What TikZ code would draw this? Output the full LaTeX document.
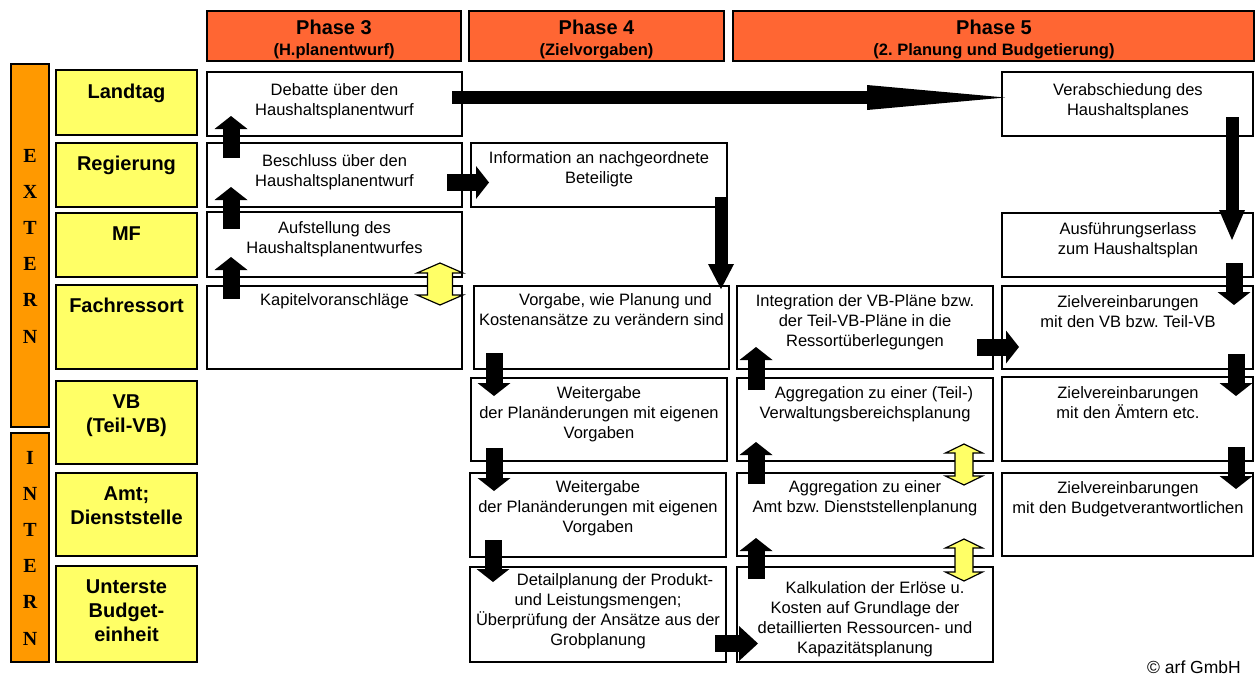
\documentclass[tikz,border=0pt]{standalone}
\usepackage{fontspec}
\setmainfont{Liberation Sans}
\newfontfamily\xserif{Liberation Serif}
\usetikzlibrary{arrows.meta,fit}
\frenchspacing
\definecolor{phasered}{HTML}{FF6633}
\definecolor{barorange}{HTML}{FF9900}
\definecolor{lblyellow}{HTML}{FFFF66}
\newcommand\tb[1]{\parbox[t]{320pt}{\centering #1}}
% yellow double arrow: cx, ytop, ybot, shaft half, head half, head length
\newcommand\ydblarrow[6]{%
  \filldraw[ydbl] (#1,#2) -- (#1+#5,#2+#6) -- (#1+#4,#2+#6) -- (#1+#4,#3-#6) -- (#1+#5,#3-#6) -- (#1,#3)
    -- (#1-#5,#3-#6) -- (#1-#4,#3-#6) -- (#1-#4,#2+#6) -- (#1-#5,#2+#6) -- cycle;}
\tikzset{
  box/.style={draw=black, line width=1.5pt, fill=white, inner sep=0pt},
  phasebox/.style={box, fill=phasered},
  lblbox/.style={box, fill=lblyellow},
  barbox/.style={box, fill=barorange},
  txt/.style={inner sep=0pt, anchor=base, font=\fontsize{16.5}{20}\selectfont},
  lbltxt/.style={inner sep=0pt, anchor=base, font=\fontsize{20}{24}\selectfont\bfseries},
  phasetxt/.style={inner sep=0pt, anchor=base, font=\bfseries},
  bartxt/.style={inner sep=0pt, anchor=base, font=\xserif\bfseries\fontsize{20}{36.2}\selectfont},
  blk/.style={line width=17pt, -{Triangle[width=33pt,length=13pt,line width=0pt]}},
  blkthin/.style={line width=13pt, -{Triangle[width=26pt,length=#1,line width=0pt]}},
  ydbl/.style={fill=lblyellow, draw=black, line width=1.2pt, line join=miter}
}
\begin{document}
\begin{tikzpicture}[x=1pt,y=-1pt]
\useasboundingbox (0,0) rectangle (1258,675);

% ---------- phase headers ----------
\node[phasebox, fit={(207,11) (461,61)}] (ph3) {};
\node[phasetxt] (ph3t) at (334,34) {\tb{\fontsize{20}{21}\selectfont Phase 3\\\fontsize{16.5}{21}\selectfont (H.planentwurf)}};
\node[phasebox, fit={(469,11) (724,61)}] (ph4) {};
\node[phasetxt] (ph4t) at (596.5,34) {\tb{\fontsize{20}{21}\selectfont Phase 4\\\fontsize{16.5}{21}\selectfont (Zielvorgaben)}};
\node[phasebox, fit={(733,11) (1254,61)}] (ph5) {};
\node[phasetxt] (ph5t) at (994,34) {\tb{\fontsize{20}{21}\selectfont Phase 5\\\fontsize{16.5}{21}\selectfont (2. Planung und Budgetierung)}};

% ---------- extern / intern bars ----------
\node[barbox, fit={(11,64) (49,427)}] (ext) {};
\node[bartxt] (extt) at (30,162) {\parbox[t]{30pt}{\centering E\\X\\T\\E\\R\\N}};
\node[barbox, fit={(11,433) (49,662)}] (int) {};
\node[bartxt] (intt) at (30,464) {\parbox[t]{30pt}{\centering I\\N\\T\\E\\R\\N}};

% ---------- row labels ----------
\node[lblbox, fit={(56,70) (197,135)}] (lLand) {};
\node[lbltxt] (lLandt) at (126.5,98) {\tb{Landtag}};
\node[lblbox, fit={(56,143) (197,207)}] (lReg) {};
\node[lbltxt] (lRegt) at (126.5,170) {\tb{Regierung}};
\node[lblbox, fit={(56,213) (197,277)}] (lMF) {};
\node[lbltxt] (lMFt) at (126.5,240) {\tb{MF}};
\node[lblbox, fit={(56,285) (197,369)}] (lFach) {};
\node[lbltxt] (lFacht) at (126.5,312) {\tb{Fachressort}};
\node[lblbox, fit={(56,381) (197,464)}] (lVB) {};
\node[lbltxt] (lVBt) at (126.5,408) {\tb{VB\\(Teil-VB)}};
\node[lblbox, fit={(56,473) (197,556)}] (lAmt) {};
\node[lbltxt] (lAmtt) at (126.5,500) {\tb{Amt;\\Dienststelle}};
\node[lblbox, fit={(56,566) (197,662)}] (lUnt) {};
\node[lbltxt] (lUntt) at (126.5,593) {\tb{Unterste\\Budget-\\einheit}};

% ---------- phase 3 boxes ----------
\node[box, fit={(207,72) (462,136)}] (deb) {};
\node[txt] (debt) at (334.5,95) {\tb{Debatte über den\\Haushaltsplanentwurf}};
\node[box, fit={(207,143) (462,207)}] (bes) {};
\node[txt] (best) at (334.5,166) {\tb{Beschluss über den\\Haushaltsplanentwurf}};
\node[box, fit={(207,212) (462,277)}] (auf) {};
\node[txt] (auft) at (334.5,233) {\tb{Aufstellung des\\Haushaltsplanentwurfes}};
\node[box, fit={(207,286) (462,369)}] (kap) {};
\node[txt] (kapt) at (334.5,305) {\tb{Kapitelvoranschläge}};

% ---------- phase 4 boxes ----------
\node[box, fit={(471,143) (727,207)}] (inf) {};
\node[txt] (inft) at (599,163) {\tb{Information an nachgeordnete\\Beteiligte}};
\node[box, fit={(474,286) (729,369)}] (vor) {};
\node[txt] (vort) at (601.5,305) {\tb{\hspace*{28pt}Vorgabe, wie Planung und\\Kostenansätze zu verändern sind}};
\node[box, fit={(471,378) (727,461)}] (wei1) {};
\node[txt] (wei1t) at (599,398) {\tb{Weitergabe\\der Planänderungen mit eigenen\\Vorgaben}};
\node[box, fit={(470,473) (726,557)}] (wei2) {};
\node[txt] (wei2t) at (598,492) {\tb{Weitergabe\\der Planänderungen mit eigenen\\Vorgaben}};
\node[box, fit={(470,567) (726,662)}] (det) {};
\node[txt] (dett) at (598,585) {\tb{\hspace*{34pt}Detailplanung der Produkt-\\und Leistungsmengen;\\Überprüfung der Ansätze aus der\\Grobplanung}};

% ---------- phase 5 middle boxes ----------
\node[box, fit={(737,286) (993,369)}] (intg) {};
\node[txt] (intgt) at (865,306) {\tb{Integration der VB-Pläne bzw.\\der Teil-VB-Pläne in die\\Ressortüberlegungen}};
\node[box, fit={(737,378) (993,461)}] (agg1) {};
\node[txt] (agg1t) at (865,398) {\tb{\hspace*{18pt}Aggregation zu einer (Teil-)\\Verwaltungsbereichsplanung}};
\node[box, fit={(737,473) (993,556)}] (agg2) {};
\node[txt] (agg2t) at (865,492) {\tb{Aggregation zu einer\\Amt bzw. Dienststellenplanung}};
\node[box, fit={(737,567) (993,662)}] (kal) {};
\node[txt] (kalt) at (865,593) {\tb{\hspace*{20pt}Kalkulation der Erlöse u.\\Kosten auf Grundlage der\\detaillierten Ressourcen- und\\Kapazitätsplanung}};

% ---------- phase 5 right boxes ----------
\node[box, fit={(1002,72) (1253,136)}] (ver) {};
\node[txt] (vert) at (1128,95) {\tb{Verabschiedung des\\Haushaltsplanes}};
\node[box, fit={(1002,213) (1253,277)}] (aus) {};
\node[txt] (aust) at (1128,234) {\tb{Ausführungserlass\\zum Haushaltsplan}};
\node[box, fit={(1002,286) (1253,369)}] (z1) {};
\node[txt] (z1t) at (1128,307) {\tb{Zielvereinbarungen\\mit den VB bzw. Teil-VB}};
\node[box, fit={(1002,377) (1253,461)}] (z2) {};
\node[txt] (z2t) at (1128,398) {\tb{Zielvereinbarungen\\mit den Ämtern etc.}};
\node[box, fit={(1002,473) (1253,556)}] (z3) {};
\node[txt] (z3t) at (1128,493) {\tb{Zielvereinbarungen\\mit den Budgetverantwortlichen}};

% ---------- arrow end points ----------
\coordinate (a1s) at (231,158);   \coordinate (a1e) at (231,116);
\coordinate (a2s) at (231,229);   \coordinate (a2e) at (231,187);
\coordinate (a3s) at (231,299);   \coordinate (a3e) at (231,257);
\coordinate (bigs) at (452,97.5); \coordinate (bige) at (1005,97.5);
\coordinate (b2is) at (447,182.5); \coordinate (b2ie) at (489,182.5);
\coordinate (i2vs) at (721,197);  \coordinate (i2ve) at (721,289);
\coordinate (v2as) at (1232,117); \coordinate (v2ae) at (1232,240);
\coordinate (a2zs) at (1234,263); \coordinate (a2ze) at (1234,305);
\coordinate (z12s) at (1236,354); \coordinate (z12e) at (1236,396);
\coordinate (z23s) at (1236,447); \coordinate (z23e) at (1236,489);
\coordinate (i2zs) at (977,347);  \coordinate (i2ze) at (1019,347);
\coordinate (p4as) at (494,353);  \coordinate (p4ae) at (494,396);
\coordinate (p4bs) at (494,448);  \coordinate (p4be) at (494,491);
\coordinate (p4cs) at (493,540);  \coordinate (p4ce) at (493,582);
\coordinate (m1s) at (756,390);   \coordinate (m1e) at (756,347);
\coordinate (m2s) at (756,484);   \coordinate (m2e) at (756,442);
\coordinate (m3s) at (756,579);   \coordinate (m3e) at (756,538);
\coordinate (d2ks) at (715,643.5); \coordinate (d2ke) at (758,643.5);

% ---------- black arrows ----------
\draw[blk] (a1s) -- (a1e);
\draw[blk] (a2s) -- (a2e);
\draw[blk] (a3s) -- (a3e);
\draw[line width=13pt, -{Triangle[width=25pt,length=138pt,line width=0pt]}] (bigs) -- (bige);
\draw[blk] (b2is) -- (b2ie);
\draw[blkthin=25pt] (i2vs) -- (i2ve);
\draw[blkthin=30pt] (v2as) -- (v2ae);
\draw[blk] (a2zs) -- (a2ze);
\draw[blk] (z12s) -- (z12e);
\draw[blk] (z23s) -- (z23e);
\draw[blk] (i2zs) -- (i2ze);
\draw[blk] (p4as) -- (p4ae);
\draw[blk] (p4bs) -- (p4be);
\draw[blk] (p4cs) -- (p4ce);
\draw[blk] (m1s) -- (m1e);
\draw[blk] (m2s) -- (m2e);
\draw[blk] (m3s) -- (m3e);
\draw[line width=17pt, -{Triangle[width=35pt,length=19pt,line width=0pt]}] (d2ks) -- (d2ke);

% ---------- yellow double arrows ----------
\ydblarrow{440}{263}{305}{12.5}{23}{10}
\ydblarrow{964}{444}{485}{9}{18.5}{9}
\ydblarrow{964}{539}{581}{9}{18.5}{9}

% ---------- copyright ----------
\node[inner sep=0pt, anchor=base, font=\fontsize{17.5}{20}\selectfont] (copy) at (1194,673) {© arf GmbH};
\end{tikzpicture}
\end{document}
